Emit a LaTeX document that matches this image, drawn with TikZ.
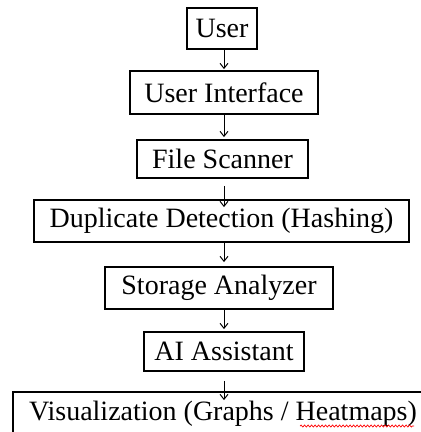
\documentclass[tikz,border=0pt]{standalone}
\usepackage{fontspec}
\setmainfont{Liberation Serif}
\usetikzlibrary{decorations.pathmorphing,arrows.meta,calc}
\begin{document}
\begin{tikzpicture}[x=1pt,y=-1pt,
  box/.style={draw=black,line width=1.8pt,inner sep=0pt,font=\fontsize{28}{30}\selectfont,anchor=center},
  arr/.style={line width=1pt,-{Straight Barb[length=5pt,width=8pt]}}]
\useasboundingbox (0,0) rectangle (421,432);
\fill[white] (0,0) rectangle (421,432);
\coordinate (ax) at (224,0);
\node[box,minimum width=70pt,minimum height=41pt] (user) at (222,28.5) {User};
\node[box,minimum width=188pt,minimum height=43pt] (ui) at (224,92.5) {User Interface};
\node[box,minimum width=171pt,minimum height=38pt] (fs) at (222.5,159) {File Scanner};
\node[box,minimum width=375pt,minimum height=42pt] (dd) at (221.5,221) {Duplicate Detection (Hashing)};
\node[box,minimum width=228pt,minimum height=42pt] (sa) at (219,288) {Storage Analyzer};
\node[box,minimum width=160pt,minimum height=39pt] (ai) at (224,351.5) {AI Assistant};
\node[box,minimum width=420pt,minimum height=44pt] (vis) at (223,414) {Visualization (Graphs / Heatmaps)};
\draw[arr] (ax |- user.south) -- ($(ax |- ui.north)+(0,-1)$);
\draw[arr] (ax |- ui.south) -- ($(ax |- fs.north)+(0,-2)$);
\draw[arr] ($(ax |- fs.south)+(0,7)$) -- ($(ax |- dd.north)+(0,8)$);
\draw[arr] (ax |- dd.south) -- ($(ax |- sa.north)+(0,-4)$);
\draw[arr] (ax |- sa.south) -- ($(ax |- ai.north)+(0,-2)$);
\draw[arr] ($(ax |- ai.south)+(0,9)$) -- ($(ax |- vis.north)+(0,9)$);
\draw[red,line width=0.7pt,decorate,decoration={snake,amplitude=1pt,segment length=3.5pt}] (300,426) -- (414,426);
\end{tikzpicture}
\end{document}
